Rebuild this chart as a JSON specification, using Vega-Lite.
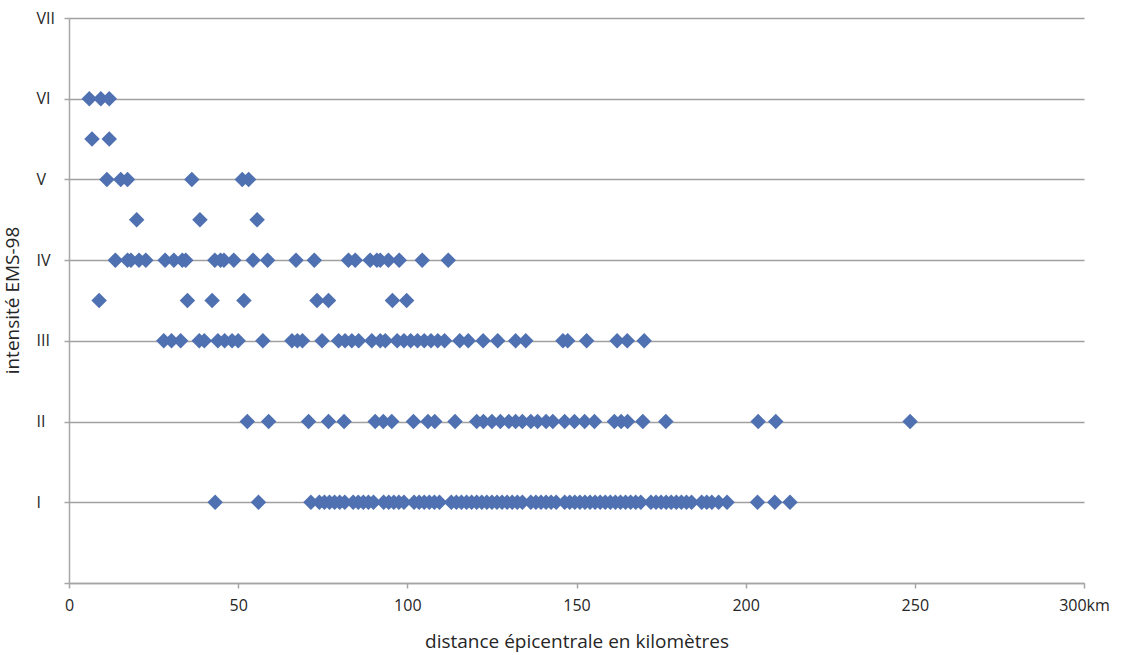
{
  "$schema": "https://vega.github.io/schema/vega-lite/v6.json",
  "autosize": "none",
  "width": 1015,
  "height": 565,
  "padding": {"left": 69, "top": 18, "right": 46, "bottom": 72},
  "background": "#ffffff",
  "config": {
    "view": {"stroke": null},
    "font": "Open Sans"
  },
  "data": {
    "values": [
      {"d": 6, "i": 6}, {"d": 9.4, "i": 6}, {"d": 11.9, "i": 6},
      {"d": 6.8, "i": 5.5}, {"d": 11.9, "i": 5.5},
      {"d": 11.2, "i": 5}, {"d": 15.3, "i": 5}, {"d": 17.3, "i": 5}, {"d": 36.3, "i": 5}, {"d": 51.2, "i": 5}, {"d": 53.1, "i": 5},
      {"d": 20, "i": 4.5}, {"d": 38.7, "i": 4.5}, {"d": 55.6, "i": 4.5},
      {"d": 13.7, "i": 4}, {"d": 17.3, "i": 4}, {"d": 18.3, "i": 4}, {"d": 20.7, "i": 4}, {"d": 22.7, "i": 4},
      {"d": 28.4, "i": 4}, {"d": 31.0, "i": 4}, {"d": 33.5, "i": 4}, {"d": 34.5, "i": 4}, {"d": 43.1, "i": 4},
      {"d": 44.8, "i": 4}, {"d": 45.8, "i": 4}, {"d": 48.7, "i": 4}, {"d": 54.4, "i": 4}, {"d": 58.7, "i": 4},
      {"d": 67.1, "i": 4}, {"d": 72.5, "i": 4}, {"d": 82.6, "i": 4}, {"d": 84.6, "i": 4}, {"d": 89.0, "i": 4},
      {"d": 91.0, "i": 4}, {"d": 92.0, "i": 4}, {"d": 94.4, "i": 4}, {"d": 97.6, "i": 4}, {"d": 104.4, "i": 4},
      {"d": 112.1, "i": 4},
      {"d": 8.9, "i": 3.5}, {"d": 35.0, "i": 3.5}, {"d": 42.3, "i": 3.5}, {"d": 51.7, "i": 3.5},
      {"d": 73.3, "i": 3.5}, {"d": 76.7, "i": 3.5}, {"d": 95.6, "i": 3.5}, {"d": 99.8, "i": 3.5},
      {"d": 28, "i": 3}, {"d": 30.3, "i": 3}, {"d": 33, "i": 3}, {"d": 38.5, "i": 3}, {"d": 40, "i": 3},
      {"d": 44, "i": 3}, {"d": 46, "i": 3}, {"d": 48.2, "i": 3}, {"d": 50, "i": 3}, {"d": 57.3, "i": 3},
      {"d": 65.9, "i": 3}, {"d": 67.5, "i": 3}, {"d": 69, "i": 3}, {"d": 74.8, "i": 3}, {"d": 79.7, "i": 3},
      {"d": 81.6, "i": 3}, {"d": 83.6, "i": 3}, {"d": 85.6, "i": 3}, {"d": 89.5, "i": 3}, {"d": 92, "i": 3},
      {"d": 93.5, "i": 3}, {"d": 97, "i": 3}, {"d": 99, "i": 3}, {"d": 101, "i": 3}, {"d": 103, "i": 3},
      {"d": 105, "i": 3}, {"d": 107, "i": 3}, {"d": 109, "i": 3}, {"d": 111, "i": 3}, {"d": 115.5, "i": 3},
      {"d": 118, "i": 3}, {"d": 122.4, "i": 3}, {"d": 126.7, "i": 3}, {"d": 132, "i": 3}, {"d": 135, "i": 3},
      {"d": 146, "i": 3}, {"d": 147.4, "i": 3}, {"d": 153, "i": 3}, {"d": 162, "i": 3}, {"d": 165, "i": 3},
      {"d": 170, "i": 3},
      {"d": 52.7, "i": 2}, {"d": 59, "i": 2}, {"d": 70.8, "i": 2}, {"d": 76.7, "i": 2}, {"d": 81.3, "i": 2},
      {"d": 90.5, "i": 2}, {"d": 92.9, "i": 2}, {"d": 95.4, "i": 2}, {"d": 101.8, "i": 2}, {"d": 106.1, "i": 2},
      {"d": 108.1, "i": 2}, {"d": 114.1, "i": 2}, {"d": 120.5, "i": 2}, {"d": 122.5, "i": 2}, {"d": 125, "i": 2},
      {"d": 127.5, "i": 2}, {"d": 130, "i": 2}, {"d": 132, "i": 2}, {"d": 134, "i": 2}, {"d": 136.5, "i": 2},
      {"d": 138.5, "i": 2}, {"d": 141, "i": 2}, {"d": 143, "i": 2}, {"d": 146.5, "i": 2}, {"d": 149.4, "i": 2},
      {"d": 152.4, "i": 2}, {"d": 155.3, "i": 2}, {"d": 161.2, "i": 2}, {"d": 163.2, "i": 2}, {"d": 165.1, "i": 2},
      {"d": 169.6, "i": 2}, {"d": 176.4, "i": 2}, {"d": 203.7, "i": 2}, {"d": 208.9, "i": 2}, {"d": 248.6, "i": 2},
      {"d": 43.2, "i": 1}, {"d": 56, "i": 1}, {"d": 71.5, "i": 1}, {"d": 74, "i": 1}, {"d": 75.5, "i": 1},
      {"d": 77, "i": 1}, {"d": 78.5, "i": 1}, {"d": 80, "i": 1}, {"d": 81.5, "i": 1}, {"d": 84, "i": 1},
      {"d": 85.5, "i": 1}, {"d": 87, "i": 1}, {"d": 88.5, "i": 1}, {"d": 90, "i": 1}, {"d": 93, "i": 1},
      {"d": 94.5, "i": 1}, {"d": 96, "i": 1}, {"d": 97.5, "i": 1}, {"d": 99, "i": 1}, {"d": 102, "i": 1},
      {"d": 103.5, "i": 1}, {"d": 105, "i": 1}, {"d": 106.5, "i": 1}, {"d": 108, "i": 1}, {"d": 109.5, "i": 1},
      {"d": 113, "i": 1}, {"d": 114.5, "i": 1}, {"d": 116, "i": 1}, {"d": 117.5, "i": 1}, {"d": 119, "i": 1},
      {"d": 120.5, "i": 1}, {"d": 122, "i": 1}, {"d": 123.5, "i": 1}, {"d": 125, "i": 1}, {"d": 126.5, "i": 1},
      {"d": 128, "i": 1}, {"d": 129.5, "i": 1}, {"d": 131, "i": 1}, {"d": 132.5, "i": 1}, {"d": 134, "i": 1},
      {"d": 136.5, "i": 1}, {"d": 138, "i": 1}, {"d": 139.5, "i": 1}, {"d": 141, "i": 1}, {"d": 142.5, "i": 1},
      {"d": 144, "i": 1}, {"d": 146.5, "i": 1}, {"d": 148, "i": 1}, {"d": 149.5, "i": 1}, {"d": 151, "i": 1},
      {"d": 152.5, "i": 1}, {"d": 154, "i": 1}, {"d": 155.5, "i": 1}, {"d": 157, "i": 1}, {"d": 158.5, "i": 1},
      {"d": 160, "i": 1}, {"d": 161.5, "i": 1}, {"d": 163, "i": 1}, {"d": 164.5, "i": 1}, {"d": 166, "i": 1},
      {"d": 167.5, "i": 1}, {"d": 169, "i": 1}, {"d": 172, "i": 1}, {"d": 173.5, "i": 1}, {"d": 175, "i": 1},
      {"d": 176.5, "i": 1}, {"d": 178, "i": 1}, {"d": 179.5, "i": 1}, {"d": 181, "i": 1}, {"d": 182.5, "i": 1},
      {"d": 184, "i": 1}, {"d": 187, "i": 1}, {"d": 188.5, "i": 1}, {"d": 190, "i": 1}, {"d": 192, "i": 1},
      {"d": 194.5, "i": 1}, {"d": 203.5, "i": 1}, {"d": 208.6, "i": 1}, {"d": 213.1, "i": 1}
    ]
  },
  "mark": {"type": "point", "shape": "diamond", "filled": true, "size": 240, "color": "#4f70b1", "opacity": 1},
  "encoding": {
    "x": {
      "field": "d",
      "type": "quantitative",
      "scale": {"domain": [0, 300], "nice": false, "zero": true},
      "axis": {
        "values": [0, 50, 100, 150, 200, 250, 300],
        "labelExpr": "datum.value == 300 ? '300km' : datum.label",
        "grid": false,
        "domainColor": "#a6a6a6",
        "domainWidth": 1.5,
        "tickColor": "#a6a6a6",
        "tickWidth": 1.5,
        "tickSize": 5,
        "labelPadding": 9,
        "labelFontSize": 16,
        "labelColor": "#262626",
        "labelFlush": false,
        "title": "distance épicentrale en kilomètres",
        "titleFontSize": 19,
        "titleFontWeight": "normal",
        "titleColor": "#262626",
        "titleY": 64,
        "titleBaseline": "alphabetic"
      }
    },
    "y": {
      "field": "i",
      "type": "quantitative",
      "scale": {"domain": [0, 7], "nice": false, "zero": true},
      "axis": {
        "values": [0, 1, 2, 3, 4, 5, 6, 7],
        "labelExpr": "['', 'I', 'II', 'III', 'IV', 'V', 'VI', 'VII'][datum.value]",
        "grid": true,
        "gridColor": "#a0a0a0",
        "gridWidth": 1.5,
        "domainColor": "#a6a6a6",
        "domainWidth": 1.5,
        "tickColor": "#a6a6a6",
        "tickWidth": 1.5,
        "tickSize": 5,
        "labelAlign": "left",
        "labelBaseline": "middle",
        "labelPadding": 28,
        "labelFontSize": 16,
        "labelColor": "#262626",
        "labelFlush": false,
        "title": "intensité EMS-98",
        "titleFontSize": 19,
        "titleFontWeight": "normal",
        "titleColor": "#262626",
        "titleAngle": -90,
        "titleX": -57,
        "titleY": 282,
        "titleAlign": "center",
        "titleBaseline": "middle"
      }
    }
  }
}
